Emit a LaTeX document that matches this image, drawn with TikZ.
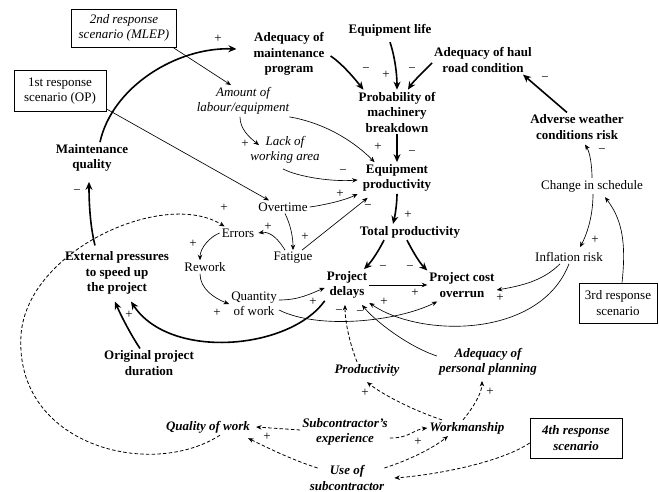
\documentclass[tikz,border=0pt]{standalone}
\usepackage{fontspec}
\setmainfont{Liberation Serif}
\usetikzlibrary{arrows.meta}
\begin{document}
\begin{tikzpicture}[x=1pt,y=-1pt,
  txt/.style={align=center, inner sep=2pt, font=\fontsize{13}{15.5}\selectfont},
  bn/.style={txt, font=\fontsize{13}{15.5}\selectfont\bfseries},
  it/.style={txt, font=\fontsize{13}{15.5}\selectfont\itshape},
  bi/.style={txt, font=\fontsize{13}{15.5}\selectfont\bfseries\itshape},
  box/.style={draw, line width=0.65pt, inner sep=3pt},
  sg/.style={inner sep=0pt, font=\fontsize{13}{15}\selectfont},
  tk/.style={line width=1.6pt, -{Stealth[length=8pt,width=7pt]}},
  tn/.style={line width=0.65pt, -{Stealth[length=5.5pt,width=4.5pt]}},
  ds/.style={line width=0.8pt, dash pattern=on 3.5pt off 2.2pt, -{Stealth[length=5.5pt,width=4.5pt]}},
]
\useasboundingbox[fill=white] (0,0) rectangle (659,492);

% nodes
\node[bn] (amp) at (289,54) {Adequacy of\\maintenance\\program};
\node[bn] (el) at (390,30) {Equipment life};
\node[bn] (haul) at (483,60) {Adequacy of haul\\road condition};
\node[bn] (pmb) at (397,112) {Probability of\\machinery\\breakdown};
\node[bn] (aw) at (577,127) {Adverse weather\\conditions risk};
\node[bn] (mq) at (92,158) {Maintenance\\quality};
\node[bn] (ep) at (397,178) {Equipment\\productivity};
\node[bn] (tp) at (410,232) {Total productivity};
\node[bn] (pd) at (347,285) {Project\\delays};
\node[bn] (pco) at (462,285) {Project cost\\overrun};
\node[bn] (ext) at (117,273) {External pressures\\to speed up\\the project};
\node[bn] (opd) at (149,363) {Original project\\duration};
\node[it] (ale) at (243,101) {Amount of\\labour/equipment};
\node[it] (lwa) at (285,150) {Lack of\\working area};
\node[txt] (ot) at (283,207) {Overtime};
\node[txt] (err) at (238,233) {Errors};
\node[txt] (fat) at (293,258) {Fatigue};
\node[txt] (rw) at (205,267) {Rework};
\node[txt] (qw) at (254,304) {Quantity\\of work};
\node[txt] (cs) at (592,186) {Change in schedule};
\node[txt] (ir) at (569,257) {Inflation risk};
\node[bi] (prod) at (367,370) {Productivity};
\node[bi] (app) at (488,362) {Adequacy of\\personal planning};
\node[bi] (qow) at (208,427) {Quality of work};
\node[bi] (se) at (345,432) {Subcontractor’s\\experience};
\node[bi] (wm) at (467,428) {Workmanship};
\node[bi] (usc) at (347,478) {Use of\\subcontractor};
\node[it, box, minimum width=105pt, minimum height=38pt] (b2) at (124,28) {2nd response\\scenario (MLEP)};
\node[txt, box, minimum width=92pt, minimum height=41pt] (b1) at (60,91) {1st response\\scenario (OP)};
\node[txt, box, minimum width=78pt, minimum height=40pt] (b3) at (618,303) {3rd response\\scenario};
\node[bi, box, minimum width=92pt, minimum height=40pt] (b4) at (576,438) {4th response\\scenario};

% thick connectors
\draw[tk] ([xshift=8pt]mq.north) .. controls +(12,-55) and +(-60,-2) .. ([xshift=-15pt,yshift=5pt]amp.west);
\draw[tk] ([yshift=-4pt]el.south) .. controls +(5,15) and +(0,-15) .. (pmb.north);
\draw[tk] ([xshift=4pt,yshift=-2pt]amp.east) .. controls +(12,8) and +(-8,-10) .. ([xshift=7pt]pmb.north west);
\draw[tk] ([yshift=-3pt]haul.west) .. controls +(-8,8) and +(5,-8) .. ([xshift=11pt]pmb.north);
\draw[tk] ([xshift=-10pt]aw.north) -- ([xshift=40pt]haul.south);
\draw[tk] (pmb.south) -- (ep.north);
\draw[tk] (ep.south) .. controls +(0,10) and +(2,-8) .. ([xshift=-17pt]tp.north);
\draw[tk] ([xshift=-26pt]tp.south) .. controls +(-5,10) and +(8,-8) .. ([xshift=17pt]pd.north);
\draw[tk] ([xshift=-3pt]tp.south) .. controls +(5,10) and +(-8,-8) .. (pco.north west);
\draw[tk] ([xshift=-22pt,yshift=4pt]ext.north) .. controls +(-5,-20) and +(0,20) .. ([xshift=-3pt,yshift=-8pt]mq.south);
\draw[tk] ([xshift=-9pt]opd.north) .. controls +(-10,-15) and +(5,12) .. ([xshift=-2pt,yshift=-5pt]ext.south);
\draw[tk] (pd.south west) .. controls +(-35,49) and +(39,59) .. ([xshift=14pt,yshift=-5pt]ext.south);

% thin connectors
\draw[tn] ([xshift=-4pt]b2.south east) -- ([xshift=-12pt]ale.north);
\draw[tn] ([yshift=3pt]b1.south east) -- ([xshift=-14pt]ot.north);
\draw[tn] ([xshift=-2pt]ale.south east) .. controls +(30,5) and +(-25,-25) .. ([xshift=14pt]ep.north west);
\draw[tn] ([xshift=-3pt]ale.south) .. controls +(0,12) and +(-10,-8) .. ([xshift=-26pt,yshift=-11pt]lwa.north);
\draw[tn] ([xshift=-2pt,yshift=-3pt]lwa.south) .. controls +(15,8) and +(-25,2) .. ([xshift=-3pt,yshift=-2pt]ep.west);
\draw[tn] (ot.east) .. controls +(15,-2) and +(-12,6) .. ([xshift=-3pt,yshift=-16pt]ep.west);
\draw[tn] ([xshift=9pt]fat.north) -- ([xshift=7pt,yshift=-4pt]ep.south west);
\draw[tn] ([xshift=2pt]ot.south) .. controls +(6,12) and +(0,-12) .. (fat.north);
\draw[tn] ([xshift=-8pt]fat.north) .. controls +(-6,-10) and +(12,-2) .. ([xshift=2pt]err.east);
\draw[tn] (err.west) .. controls +(-10,4) and +(0,-12) .. ([xshift=-5pt]rw.north);
\draw[tn] ([xshift=-5pt]rw.south) .. controls +(0,15) and +(-15,-6) .. (qw.west);
\draw[tn] ([yshift=4pt]qw.east) .. controls +(20,0) and +(-15,6) .. ([yshift=-3pt]pd.west);
\draw[tn] ([yshift=-6pt]qw.east) .. controls +(40,20) and +(-40,20) .. ([xshift=10pt,yshift=-2pt]pco.south west);
\draw[tn] (pd.east) -- (pco.west);
\draw[tn] ([xshift=-9pt]ir.south) .. controls +(-15,15) and +(30,-5) .. ([yshift=-5pt]pco.east);
\draw[tn] (ir.south) .. controls +(-29,75) and +(51,35) .. ([yshift=-2pt]pd.south east);
\draw[tn] ([yshift=6pt]app.west) .. controls +(-30,-10) and +(12,15) .. ([xshift=15pt,yshift=-4pt]pd.south);
\draw[tn] ([xshift=4pt]b3.north) .. controls +(5,-45) and +(15,20) .. ([xshift=13pt,yshift=-3pt]cs.south);
\draw[tn] ([xshift=1pt]cs.south) .. controls +(0,20) and +(8,-15) .. ([xshift=11pt,yshift=3pt]ir.north);
\draw[tn] (cs.north) .. controls +(0,-12) and +(5,8) .. ([xshift=8pt,yshift=-3pt]aw.south);

% dashed connectors
\draw[ds] ([xshift=-10pt]prod.north) .. controls +(-8,-20) and +(0,15) .. ([xshift=-2pt,yshift=-4pt]pd.south);
\draw[ds] ([xshift=-25pt]wm.north) .. controls +(-30,-10) and +(15,12) .. ([yshift=-4pt]prod.south);
\draw[ds] ([xshift=-4pt]wm.north) .. controls +(10,-12) and +(0,12) .. ([xshift=-6pt,yshift=-3pt]app.south);
\draw[ds] ([yshift=-6pt]se.east) .. controls +(20,0) and +(-15,2) .. (wm.west);
\draw[ds] ([yshift=2pt]se.west) -- ([xshift=4pt]qow.east);
\draw[ds] ([xshift=10pt,yshift=10pt]usc.west) .. controls +(-25,-8) and +(20,10) .. ([xshift=-4pt,yshift=-3pt]qow.south east);
\draw[ds] ([xshift=-2pt,yshift=10pt]usc.east) .. controls +(25,-8) and +(-15,12) .. ([xshift=-19pt]wm.south);
\draw[ds] ([yshift=-5pt]b4.west) .. controls +(-30,20) and +(40,-3) .. ([xshift=8pt]usc.east);
\draw[ds] ([xshift=12pt]qow.south) .. controls +(-70,45) and +(-7,110) .. (21,335) .. controls +(6,-85) and +(-60,-38) .. ([xshift=5pt]err.north west);

% signs
\node[sg] (s1) at (218,39) {+};
\node[sg] (s2) at (386,75) {+};
\node[sg] (s3) at (366,70) {−};
\node[sg] (s4) at (412,70) {−};
\node[sg] (s5) at (545,79) {−};
\node[sg] (s6) at (378,147) {+};
\node[sg] (s7) at (412,153) {−};
\node[sg] (s8) at (245,144) {+};
\node[sg] (s9) at (343,172) {−};
\node[sg] (s10) at (340,194) {+};
\node[sg] (s11) at (368,207) {−};
\node[sg] (s12) at (305,237) {+};
\node[sg] (s13) at (268,227) {+};
\node[sg] (s14) at (193,244) {+};
\node[sg] (s15) at (217,313) {+};
\node[sg] (s16) at (224,208) {+};
\node[sg] (s17) at (77,192) {−};
\node[sg] (s18) at (129,315) {+};
\node[sg] (s19) at (313,302) {+};
\node[sg] (s20) at (383,268) {−};
\node[sg] (s21) at (410,268) {−};
\node[sg] (s22) at (408,215) {+};
\node[sg] (s23) at (415,293) {+};
\node[sg] (s24) at (500,298) {+};
\node[sg] (s25) at (384,302) {+};
\node[sg] (s26) at (360,313) {−};
\node[sg] (s27) at (339,312) {−};
\node[sg] (s28) at (365,393) {+};
\node[sg] (s29) at (490,392) {+};
\node[sg] (s30) at (418,442) {+};
\node[sg] (s31) at (267,437) {+};
\node[sg] (s32) at (595,240) {+};
\node[sg] (s33) at (602,151) {−};
\end{tikzpicture}
\end{document}
